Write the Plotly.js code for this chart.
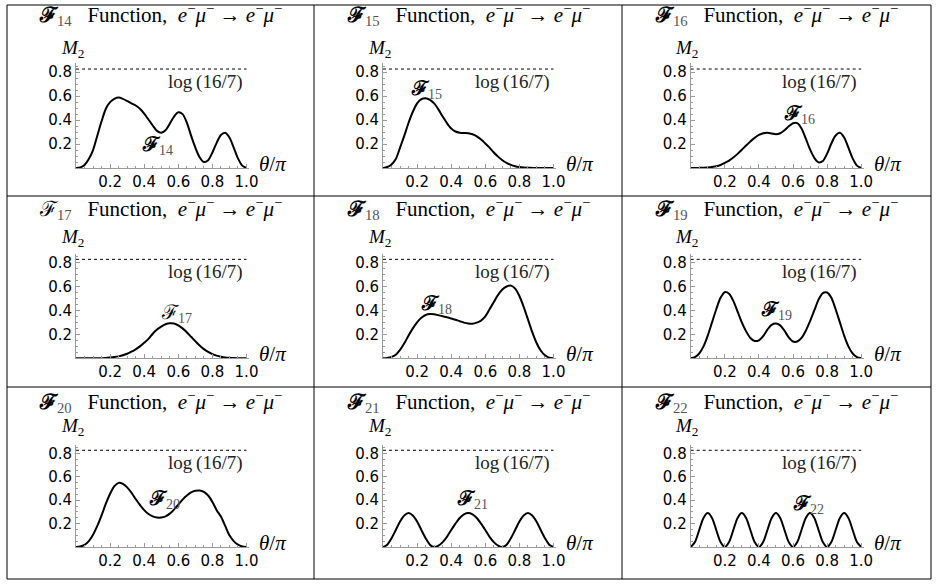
<!DOCTYPE html>
<html><head><meta charset="utf-8">
<script src="https://cdn.plot.ly/plotly-3.0.1.min.js"></script>
<style>body{margin:0;background:#fff}#chart{width:936px;height:584px}</style>
</head><body><div id="chart"></div>
<script>
// ---- data ----
const theta = [0,0.025,0.05,0.075,0.1,0.125,0.15,0.175,0.2,0.225,0.25,0.275,0.3,0.325,0.35,0.375,0.4,0.425,0.45,0.475,0.5,0.525,0.55,0.575,0.6,0.625,0.65,0.675,0.7,0.725,0.75,0.775,0.8,0.825,0.85,0.875,0.9,0.925,0.95,0.975,1];
const f14 = [0,0.005,0.025,0.075,0.15,0.27,0.39,0.495,0.55,0.578,0.588,0.578,0.56,0.54,0.522,0.495,0.455,0.405,0.355,0.31,0.295,0.315,0.37,0.43,0.465,0.45,0.38,0.27,0.17,0.09,0.05,0.065,0.13,0.21,0.275,0.294,0.255,0.17,0.08,0.02,0];
const f15 = [0,0.008,0.03,0.075,0.17,0.27,0.378,0.47,0.54,0.575,0.583,0.57,0.54,0.49,0.43,0.375,0.33,0.305,0.295,0.292,0.29,0.282,0.265,0.238,0.205,0.17,0.13,0.095,0.065,0.042,0.026,0.015,0.008,0.004,0.002,0.001,0,0,0,0,0];
const f16 = [0,0,0.001,0.002,0.004,0.008,0.014,0.025,0.042,0.062,0.088,0.118,0.152,0.188,0.222,0.252,0.276,0.29,0.294,0.288,0.282,0.29,0.315,0.348,0.374,0.375,0.33,0.245,0.155,0.085,0.048,0.058,0.12,0.205,0.272,0.294,0.255,0.17,0.08,0.02,0];
const f17 = [0,0,0,0,0,0,0,0.003,0.006,0.01,0.016,0.025,0.038,0.055,0.075,0.1,0.13,0.162,0.205,0.24,0.265,0.284,0.293,0.29,0.275,0.25,0.218,0.18,0.142,0.107,0.077,0.053,0.035,0.022,0.013,0.007,0.004,0.002,0.001,0,0];
const f18 = [0,0.003,0.012,0.03,0.07,0.125,0.19,0.25,0.3,0.338,0.362,0.37,0.368,0.36,0.352,0.343,0.333,0.322,0.31,0.298,0.29,0.288,0.298,0.315,0.35,0.41,0.47,0.53,0.575,0.6,0.607,0.582,0.52,0.43,0.325,0.22,0.13,0.065,0.025,0.006,0];
const f19 = [0,0.01,0.04,0.1,0.19,0.3,0.41,0.505,0.552,0.54,0.48,0.39,0.3,0.225,0.17,0.145,0.15,0.185,0.24,0.28,0.29,0.275,0.23,0.175,0.14,0.14,0.17,0.23,0.31,0.4,0.49,0.545,0.55,0.505,0.41,0.3,0.19,0.1,0.04,0.01,0];
const f20 = [0,0.004,0.018,0.05,0.105,0.18,0.27,0.37,0.455,0.52,0.548,0.54,0.51,0.465,0.41,0.36,0.315,0.282,0.262,0.252,0.252,0.262,0.285,0.32,0.362,0.405,0.44,0.466,0.48,0.483,0.472,0.44,0.385,0.315,0.26,0.18,0.1,0.05,0.02,0.005,0];
const f21 = [0,0.02,0.075,0.145,0.218,0.27,0.29,0.27,0.218,0.145,0.075,0.02,0,0.011,0.042,0.087,0.145,0.2,0.248,0.279,0.29,0.279,0.248,0.2,0.145,0.087,0.042,0.011,0,0.02,0.075,0.145,0.218,0.27,0.29,0.27,0.218,0.145,0.075,0.02,0];
const f22 = [0,0.042,0.145,0.248,0.29,0.248,0.145,0.042,0,0.042,0.145,0.248,0.29,0.248,0.145,0.042,0,0.042,0.145,0.248,0.29,0.248,0.145,0.042,0,0.042,0.145,0.248,0.29,0.248,0.145,0.042,0,0.042,0.145,0.248,0.29,0.248,0.145,0.042,0];
const series = [f14,f15,f16,f17,f18,f19,f20,f21,f22];
const indices = ['14','15','16','17','18','19','20','21','22'];
const boldF = [true,true,true,false,true,true,true,true,true];
const logValue = Math.log(16/7);
const logLabel = 'log\u2009(16/7)';
const xTickVals = [0.2,0.4,0.6,0.8,1.0];
const xTickText = ['0.2','0.4','0.6','0.8','1.0'];
const yTickVals = [0.2,0.4,0.6,0.8];
const yTickText = ['0.2','0.4','0.6','0.8'];

// ---- layout geometry ----
const W=936,H=584;
const colX0=[76,383,690.7], rowY0=[168,358.3,547], sx=170.5, sy=[119.7,119.7,117];
const titleY=[14.5,208,401.5], mY=[49,238,427];
const panelCX=[160.5,468,776.5];
const xMax=1.015, yMax=0.875;
const labelPos=[[0.375,0.19],[0.15,0.66],[0.538,0.45],[0.485,0.378],[0.21,0.448],[0.40,0.40],[0.414,0.406],[0.424,0.406],[0.587,0.364]];
const gridX=[7,314,622,931], gridY=[5,196,387,579];

const serif='Liberation Serif, DejaVu Serif, serif';
const traces=[], annotations=[], shapes=[];
const layout={width:W,height:H,margin:{l:0,r:0,t:0,b:0},showlegend:false,
  paper_bgcolor:'#fff',plot_bgcolor:'rgba(0,0,0,0)'};

function Fsym(i){ return boldF[i] ? '<b>ℱ</b>' : 'ℱ'; }

for(let i=0;i<9;i++){
  const r=Math.floor(i/3), c=i%3;
  const sfx = i===0 ? '' : String(i+1);
  const xa='x'+sfx, ya='y'+sfx;
  const x0=colX0[c], y0=rowY0[r];
  const xd=[x0/W,(x0+xMax*sx)/W];
  const yd=[1-y0/H,1-(y0-yMax*sy[r])/H];
  const tf={family:'DejaVu Sans',size:15,color:'#000'};
  layout['xaxis'+sfx]={domain:xd,range:[0,xMax],anchor:ya,showline:true,linecolor:'#9a9a9a',linewidth:1,
    ticks:'inside',ticklen:4,tickcolor:'#9a9a9a',tickmode:'array',tickvals:xTickVals,ticktext:xTickText,
    tickfont:tf,showgrid:false,zeroline:false,fixedrange:true,
    minor:{tickmode:'linear',tick0:0,dtick:0.05,ticks:'inside',ticklen:2,tickcolor:'#9a9a9a',showgrid:false}};
  layout['yaxis'+sfx]={domain:yd,range:[0,yMax],anchor:xa,showline:true,linecolor:'#9a9a9a',linewidth:1,
    ticks:'inside',ticklen:4,tickcolor:'#9a9a9a',tickmode:'array',tickvals:yTickVals,ticktext:yTickText,
    tickfont:tf,showgrid:false,zeroline:false,fixedrange:true,
    minor:{tickmode:'linear',tick0:0,dtick:0.05,ticks:'inside',ticklen:2,tickcolor:'#9a9a9a',showgrid:false}};
  traces.push({type:'scatter',mode:'lines',x:[0,1],y:[logValue,logValue],xaxis:xa,yaxis:ya,
    line:{color:'#000',width:1,dash:'3px,3px'},hoverinfo:'skip'});
  traces.push({type:'scatter',mode:'lines',x:theta,y:series[i],xaxis:xa,yaxis:ya,
    line:{color:'#000',width:2,shape:'spline',smoothing:0.8},hoverinfo:'skip'});
  const sub='<span style="color:#555">'+indices[i]+'</span>';
  annotations.push({xref:'paper',yref:'paper',x:panelCX[c]/W,y:1-titleY[r]/H,xanchor:'center',yanchor:'middle',showarrow:false,
    text:Fsym(i)+'<sub>'+sub+'</sub>\u00a0\u00a0\u00a0Function,\u00a0 <i>e</i><sup>−</sup><i>μ</i><sup>−</sup> → <i>e</i><sup>−</sup><i>μ</i><sup>−</sup>',
    font:{family:serif,size:21,color:'#000'}});
  annotations.push({xref:'paper',yref:'paper',x:(x0-4)/W,y:1-mY[r]/H,xanchor:'center',yanchor:'middle',showarrow:false,
    text:'<i>M</i><sub>2</sub>',font:{family:serif,size:19,color:'#000'}});
  annotations.push({xref:xa,yref:ya,x:0.99,y:logValue,xanchor:'right',yanchor:'top',yshift:0,showarrow:false,
    text:logLabel,font:{family:serif,size:19,color:'#222'}});
  annotations.push({xref:'paper',yref:'paper',x:(x0+181)/W,y:1-(y0-4)/H,xanchor:'left',yanchor:'middle',showarrow:false,
    text:'<i>θ</i>/<i>π</i>',font:{family:serif,size:21,color:'#000'}});
  annotations.push({xref:xa,yref:ya,x:labelPos[i][0],y:labelPos[i][1],xanchor:'left',yanchor:'middle',showarrow:false,
    text:Fsym(i)+'<sub>'+sub+'</sub>',font:{family:serif,size:20,color:'#000'}});
}
gridX.forEach(gx=>shapes.push({type:'line',xref:'paper',yref:'paper',x0:gx/W,x1:gx/W,y0:1-gridY[0]/H,y1:1-gridY[3]/H,line:{color:'#000',width:1}}));
gridY.forEach(gy=>shapes.push({type:'line',xref:'paper',yref:'paper',x0:gridX[0]/W,x1:gridX[3]/W,y0:1-gy/H,y1:1-gy/H,line:{color:'#000',width:1}}));
layout.annotations=annotations; layout.shapes=shapes;
Plotly.newPlot('chart',traces,layout,{staticPlot:true,displayModeBar:false});
</script></body></html>
